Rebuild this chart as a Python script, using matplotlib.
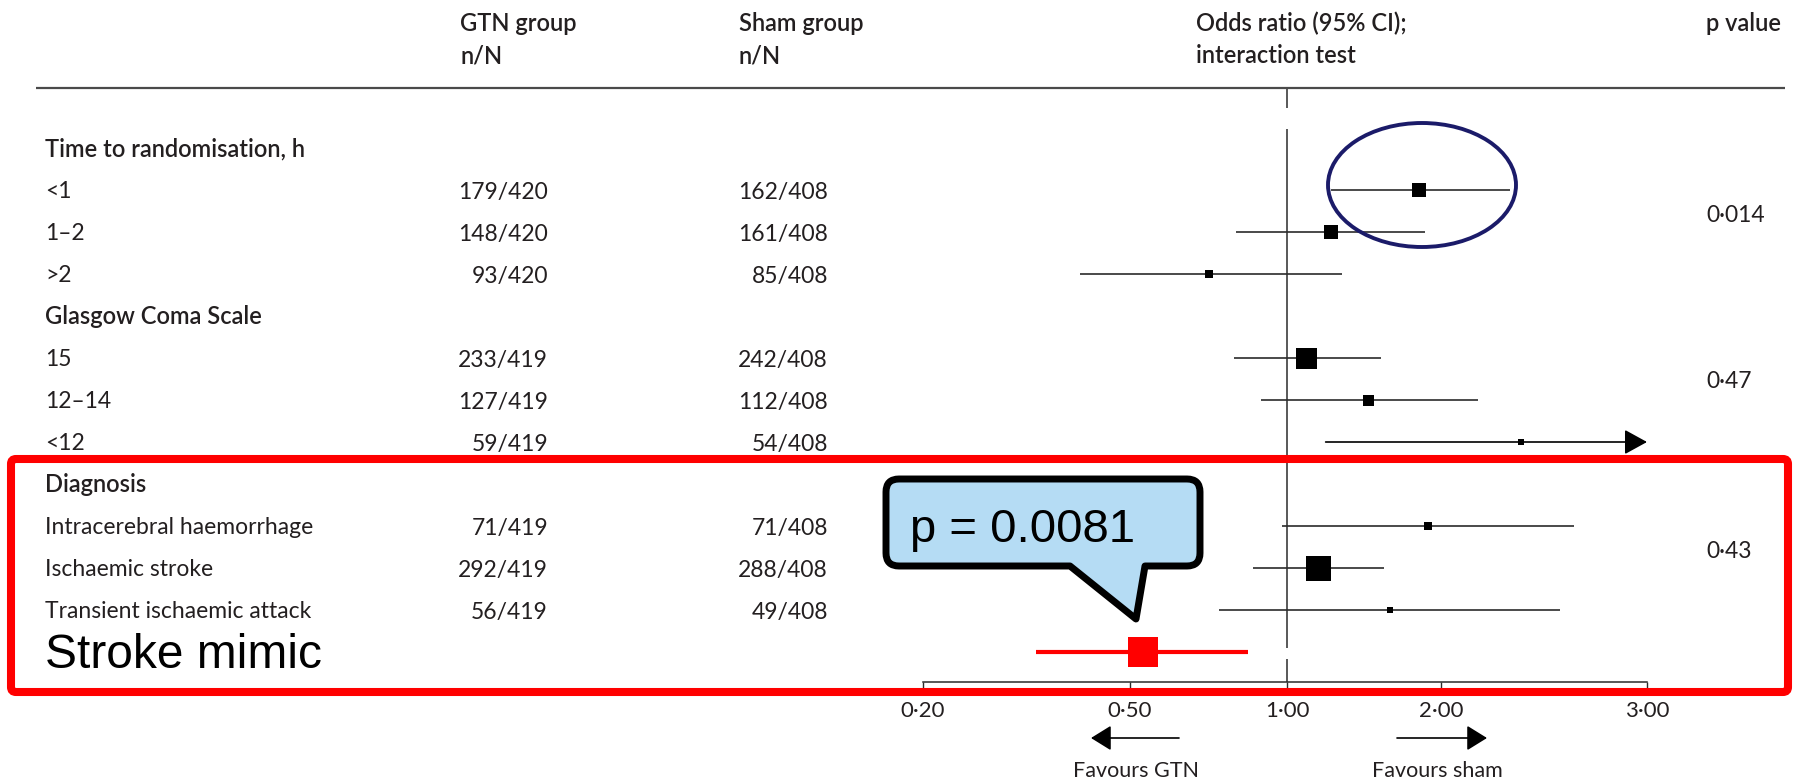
import numpy as np
import matplotlib
matplotlib.use("Agg")
import matplotlib.pyplot as plt
from matplotlib import transforms as mtransforms
from matplotlib.patches import FancyBboxPatch, Ellipse, PathPatch
from matplotlib.path import Path
from matplotlib.ticker import NullLocator

# ---------------- data ----------------
row_labels = ["Time to randomisation, h", "<1", "1–2", ">2",
              "Glasgow Coma Scale", "15", "12–14", "<12",
              "Diagnosis", "Intracerebral haemorrhage", "Ischaemic stroke",
              "Transient ischaemic attack", "Stroke mimic"]
row_is_header = [True, False, False, False, True, False, False, False,
                 True, False, False, False, False]
gtn_nN = ["", "179/420", "148/420", "93/420", "", "233/419", "127/419", "59/419",
          "", "71/419", "292/419", "56/419", ""]
sham_nN = ["", "162/408", "161/408", "85/408", "", "242/408", "112/408", "54/408",
           "", "71/408", "288/408", "49/408", ""]
odds_ratio = [np.nan, 1.81, 1.22, 0.71, np.nan, 1.09, 1.44, 2.34,
              np.nan, 1.89, 1.15, 1.59, 0.53]
ci_lower = [np.nan, 1.22, 0.80, 0.40, np.nan, 0.79, 0.89, 1.19,
            np.nan, 0.98, 0.86, 0.74, 0.33]
ci_upper = [np.nan, 2.29, 1.86, 1.28, np.nan, 1.53, 2.15, 3.00,
            np.nan, 2.60, 1.55, 2.53, 0.84]
ci_truncated = [False, False, False, False, False, False, False, True,
                False, False, False, False, False]
box_weight = [0, 14, 14, 8, 0, 21, 11, 6, 0, 8, 25, 6, 30]
p_values = ["0·014", "0·47", "0·43"]
tick_values = [0.20, 0.50, 1.00, 2.00, 3.00]
tick_labels = ["0·20", "0·50", "1·00", "2·00", "3·00"]
highlight_row = 12

# ---------------- layout / style ----------------
W, H, DPI = 1795, 783, 100
ROW0, ROWSTEP = 148.0, 42.0
AX_TOP, AX_BOT = 88.0, 682.0
SCALE_PX = np.array([923.0, 1130.0, 1287.0, 1441.0, 1647.0])
LOGV = np.log(np.array(tick_values))
TXT = "#231f20"
LINE = "#2b2b2b"
BODY = ["Lato", "DejaVu Sans"]
ARIAL = ["Liberation Sans", "DejaVu Sans"]
FS = 16.5
FS_HEAD = 17
p_rows = [1.55, 5.5, 9.55]

s0 = (SCALE_PX[1] - SCALE_PX[0]) / (LOGV[1] - LOGV[0])
s1 = (SCALE_PX[-1] - SCALE_PX[-2]) / (LOGV[-1] - LOGV[-2])


def fwd(v):
    v = np.asarray(v, float)
    lv = np.log(np.clip(v, 1e-12, None))
    out = np.interp(lv, LOGV, SCALE_PX)
    out = np.where(lv < LOGV[0], SCALE_PX[0] + (lv - LOGV[0]) * s0, out)
    out = np.where(lv > LOGV[-1], SCALE_PX[-1] + (lv - LOGV[-1]) * s1, out)
    return out


def inv(p):
    p = np.asarray(p, float)
    lv = np.interp(p, SCALE_PX, LOGV)
    lv = np.where(p < SCALE_PX[0], LOGV[0] + (p - SCALE_PX[0]) / s0, lv)
    lv = np.where(p > SCALE_PX[-1], LOGV[-1] + (p - SCALE_PX[-1]) / s1, lv)
    return np.exp(lv)


fig = plt.figure(figsize=(W / DPI, H / DPI), dpi=DPI)
fig.patch.set_facecolor("white")

ax = fig.add_axes([SCALE_PX[0] / W, 1 - AX_BOT / H,
                   (SCALE_PX[-1] - SCALE_PX[0]) / W, (AX_BOT - AX_TOP) / H])
ax.set_xscale("function", functions=(fwd, inv))
ax.set_xlim(tick_values[0], tick_values[-1])
y_top = (AX_TOP - ROW0) / ROWSTEP
y_bot = (AX_BOT - ROW0) / ROWSTEP
ax.set_ylim(y_bot, y_top)
ax.set_facecolor("none")
for s in ["top", "left", "right"]:
    ax.spines[s].set_visible(False)
ax.spines["bottom"].set_color(LINE)
ax.spines["bottom"].set_linewidth(1.1)
ax.set_yticks([])
ax.set_xticks(tick_values)
ax.set_xticklabels(tick_labels, fontfamily=BODY, fontsize=16, color=TXT)
ax.xaxis.set_minor_locator(NullLocator())
ax.tick_params(axis="x", direction="out", length=4, width=1.0, color=LINE, pad=9.5)

# reference line at OR = 1 (with gaps as in original)
ax.vlines([1.0, 1.0, 1.0],
          [y_top, (129 - ROW0) / ROWSTEP, (659 - ROW0) / ROWSTEP],
          [(108 - ROW0) / ROWSTEP, (648 - ROW0) / ROWSTEP, y_bot],
          color=LINE, lw=1.1)

rows = np.arange(len(row_labels))
for i in rows:
    if np.isnan(odds_ratio[i]):
        continue
    col = "#ff0000" if i == highlight_row else "black"
    lw = 3.0 if i == highlight_row else 1.2
    if ci_truncated[i]:
        ax.annotate("", xy=(ci_upper[i], i), xytext=(ci_lower[i], i),
                    arrowprops=dict(arrowstyle="-|>,head_length=1.0,head_width=0.55",
                                    mutation_scale=14, lw=lw, color=col,
                                    shrinkA=0, shrinkB=0))
    else:
        ax.hlines(i, ci_lower[i], ci_upper[i], color=col if i == highlight_row else LINE,
                  lw=lw)
    ax.plot(odds_ratio[i], i, marker="s", ms=box_weight[i] * 0.72, color=col,
            mec=col, mew=0, linestyle="none", zorder=4)

# ---------------- overlay (text + annotations) ----------------
bg = fig.add_axes([0, 0, 1, 1], zorder=5)
bg.set_xlim(0, W)
bg.set_ylim(H, 0)
bg.axis("off")
bg.set_facecolor("none")

rowT = mtransforms.blended_transform_factory(bg.transData, ax.transData)
rowB = mtransforms.offset_copy(rowT, fig=fig, x=0, y=-8.5 * 0.72, units="points")
rowBig = mtransforms.offset_copy(rowT, fig=fig, x=0, y=-16 * 0.72, units="points")

# header
for x, l1, l2 in [(460, "GTN group", "n/N"), (739, "Sham group", "n/N"),
                  (1196, "Odds ratio (95% CI);", "interaction test"),
                  (1706, "p value", "")]:
    bg.text(x, 31, l1, fontfamily=BODY, fontsize=FS_HEAD, fontweight="semibold",
            color=TXT, va="baseline", ha="left")
    if l2:
        bg.text(x, 63, l2, fontfamily=BODY, fontsize=FS_HEAD, fontweight="semibold",
                color=TXT, va="baseline", ha="left")
bg.plot([36, 1785], [88, 88], color="#4a4a4a", lw=1.6, solid_capstyle="butt")

for i in rows:
    if i == highlight_row:
        bg.text(45, i, row_labels[i], transform=rowBig, fontfamily=ARIAL,
                fontsize=34.5, color="black", va="baseline", ha="left")
        continue
    bg.text(45, i, row_labels[i], transform=rowB, fontfamily=BODY,
            fontsize=FS_HEAD if row_is_header[i] else FS,
            fontweight="semibold" if row_is_header[i] else "normal",
            color=TXT, va="baseline", ha="left")
    if gtn_nN[i]:
        bg.text(548, i, gtn_nN[i], transform=rowB, fontfamily=BODY, fontsize=FS,
                color=TXT, va="baseline", ha="right")
    if sham_nN[i]:
        bg.text(828, i, sham_nN[i], transform=rowB, fontfamily=BODY, fontsize=FS,
                color=TXT, va="baseline", ha="right")

for pr, pv in zip(p_rows, p_values):
    bg.text(1706, pr, pv, transform=rowB, fontfamily=BODY, fontsize=FS,
            color=TXT, va="baseline", ha="left")

# favours arrows
for tail, tip, lbl, cx in [(1179, 1091, "Favours GTN", 1136),
                           (1397, 1487, "Favours sham", 1437)]:
    bg.annotate("", xy=(tip, 738), xytext=(tail, 738),
                arrowprops=dict(arrowstyle="-|>,head_length=1.0,head_width=0.62",
                                mutation_scale=12.5, lw=1.2, color="black",
                                shrinkA=0, shrinkB=0))
    bg.text(cx, 777, lbl, fontfamily=BODY, fontsize=15.5, color=TXT,
            va="baseline", ha="center")

# circle around <1 estimate
bg.add_patch(Ellipse((1422, 185), 188, 124, fill=False, ec="#1b1b69", lw=2.8))

# red highlight box
bg.add_patch(FancyBboxPatch((11, 459), 1777, 233,
                            boxstyle="round,pad=0,rounding_size=5",
                            fc="none", ec="#ff0000", lw=5.8))

# speech-bubble callout
x0, x1, y0, y1, r = 886, 1200, 479, 566, 13
bx0, bx1, tip = 1070, 1145, (1136, 619)
verts = [(x0 + r, y0), (x1 - r, y0), (x1, y0), (x1, y0 + r), (x1, y1 - r),
         (x1, y1), (x1 - r, y1), (bx1, y1), tip, (bx0, y1), (x0 + r, y1),
         (x0, y1), (x0, y1 - r), (x0, y0 + r), (x0, y0), (x0 + r, y0), (x0 + r, y0)]
codes = [Path.MOVETO, Path.LINETO, Path.CURVE3, Path.CURVE3, Path.LINETO,
         Path.CURVE3, Path.CURVE3, Path.LINETO, Path.LINETO, Path.LINETO,
         Path.LINETO, Path.CURVE3, Path.CURVE3, Path.LINETO, Path.CURVE3,
         Path.CURVE3, Path.CLOSEPOLY]
bg.add_patch(PathPatch(Path(verts, codes), fc="#b5dcf4", ec="black", lw=5,
                       joinstyle="round"))
bg.text(910, 542, "p = 0.0081", fontfamily=ARIAL, fontsize=34, color="black",
        va="baseline", ha="left")

fig.savefig("out.png", dpi=DPI, facecolor="white")
